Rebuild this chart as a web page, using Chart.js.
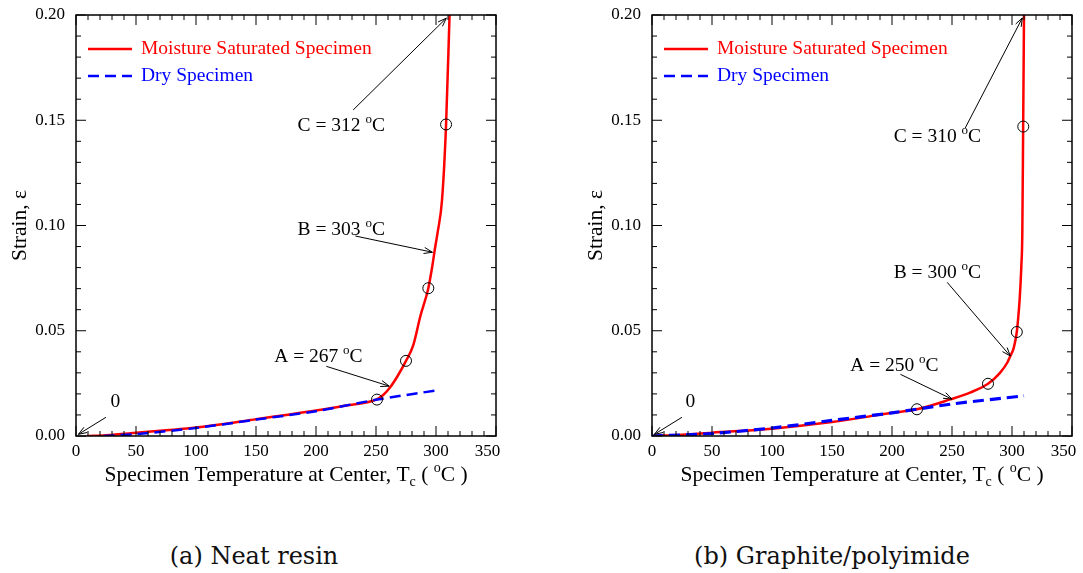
<!DOCTYPE html>
<html>
<head>
<meta charset="utf-8">
<script src="https://cdn.jsdelivr.net/npm/chart.js@4.4.0/dist/chart.umd.min.js"></script>
<style>
html, body { margin: 0; padding: 0; background: #fff; width: 1083px; height: 573px; overflow: hidden; position: relative; }
.panel { position: absolute; top: 0; height: 490px; }
#left { left: 0; width: 540px; }
#right { left: 576px; width: 530px; }
.caption { position: absolute; top: 542px; font-family: "DejaVu Serif", serif; font-size: 24px; color: #111; white-space: nowrap; transform: translateX(-50%); }
</style>
</head>
<body>
<div class="panel" id="left"><canvas id="resinChart"></canvas></div>
<div class="panel" id="right"><canvas id="gpChart"></canvas></div>
<div class="caption" style="left:254px">(a) Neat resin</div>
<div class="caption" style="left:832px">(b) Graphite/polyimide</div>

<script>
// axis ticks
const tempTicks = [0, 50, 100, 150, 200, 250, 300, 350];
const strainTicks = [0, 0.05, 0.10, 0.15, 0.20];

// (a) neat resin
const resinWetT = [9, 25, 50, 75, 100, 125, 150, 175, 200, 225, 250, 256, 262, 268, 275, 281, 287, 293.6, 297, 299, 301.3, 305, 308.4, 311.3];
const resinWetS = [0, 0.0004, 0.0015, 0.0027, 0.004, 0.0058, 0.008, 0.01, 0.0121, 0.0145, 0.0173, 0.0195, 0.0233, 0.0285, 0.0357, 0.043, 0.057, 0.0702, 0.081, 0.0886, 0.0965, 0.112, 0.148, 0.2];
const resinDryT = [23, 50, 100, 150, 200, 250, 300.8];
const resinDryS = [0, 0.0009, 0.0038, 0.0078, 0.0118, 0.0172, 0.0217];
const resinMarkT = [250.8, 275, 293.6, 308.4];
const resinMarkS = [0.0173, 0.0357, 0.0702, 0.148];

// (b) graphite/polyimide
const gpWetT = [0, 25, 50, 100, 150, 200, 220.8, 248.6, 265, 280, 290, 296, 298.6, 301, 303, 304, 305, 306.4, 307.8, 308.6, 309.3, 310];
const gpWetS = [0, 0.0006, 0.0016, 0.0035, 0.0066, 0.011, 0.0127, 0.0174, 0.0206, 0.0248, 0.030, 0.0348, 0.038, 0.041, 0.046, 0.0494, 0.055, 0.065, 0.081, 0.0965, 0.147, 0.2];
const gpDryT = [0, 50, 100, 150, 200, 250, 310];
const gpDryS = [0, 0.0012, 0.0038, 0.0074, 0.011, 0.0152, 0.0191];
const gpMarkT = [220.8, 280, 304, 309.4];
const gpMarkS = [0.0127, 0.0248, 0.0494, 0.147];

// arrow notes: label, text centre (T, strain), arrow tail, arrow head
const resinNotes = [
  { label: 'C = 312', deg: true, tx: 221, ty: 0.1482, x1: 231, y1: 0.1549, x2: 308.6, y2: 0.1985 },
  { label: 'B = 303', deg: true, tx: 221, ty: 0.0988, x1: 232.8, y1: 0.095, x2: 297, y2: 0.0873 },
  { label: 'A = 267', deg: true, tx: 202, ty: 0.0384, x1: 208.6, y1: 0.0331, x2: 261, y2: 0.0237 },
  { label: '0', deg: false, tx: 32.8, ty: 0.017, x1: 25, y1: 0.0089, x2: 2, y2: 0.0008 }
];
const gpNotes = [
  { label: 'C = 310', deg: true, tx: 237.8, ty: 0.143, x1: 261, y1: 0.1463, x2: 308.6, y2: 0.1986 },
  { label: 'B = 300', deg: true, tx: 237.8, ty: 0.0783, x1: 246, y1: 0.073, x2: 298.6, y2: 0.038 },
  { label: 'A = 250', deg: true, tx: 202, ty: 0.0341, x1: 207, y1: 0.0293, x2: 250, y2: 0.0175 },
  { label: '0', deg: false, tx: 32, ty: 0.017, x1: 25, y1: 0.0089, x2: 2, y2: 0.0008 }
];

const serif = '"Liberation Serif", "Times New Roman", serif';
const pts = (xs, ys) => xs.map((x, i) => ({ x: x, y: ys[i] }));

// draw a run of text pieces [text, size, dy] centred on cx
function richText(ctx, parts, cx, baseY, color) {
  let w = 0;
  parts.forEach(p => { ctx.font = p[1] + 'px ' + serif; w += ctx.measureText(p[0]).width; });
  let x = cx - w / 2;
  ctx.fillStyle = color || '#000';
  ctx.textAlign = 'left';
  ctx.textBaseline = 'alphabetic';
  parts.forEach(p => {
    ctx.font = p[1] + 'px ' + serif;
    ctx.fillText(p[0], x, baseY + p[2]);
    x += ctx.measureText(p[0]).width;
  });
}

function arrow(ctx, x1, y1, x2, y2) {
  const a = Math.atan2(y2 - y1, x2 - x1);
  ctx.beginPath();
  ctx.moveTo(x1, y1);
  ctx.lineTo(x2, y2);
  ctx.moveTo(x2 - 9 * Math.cos(a - 0.35), y2 - 9 * Math.sin(a - 0.35));
  ctx.lineTo(x2, y2);
  ctx.lineTo(x2 - 9 * Math.cos(a + 0.35), y2 - 9 * Math.sin(a + 0.35));
  ctx.stroke();
}

const decorPlugin = {
  id: 'decor',
  afterDraw(chart) {
    const ctx = chart.ctx;
    const a = chart.chartArea;
    const xs = chart.scales.x, ys = chart.scales.y;
    ctx.save();

    // frame
    ctx.strokeStyle = '#000';
    ctx.lineWidth = 1.5;
    ctx.strokeRect(a.left, a.top, a.right - a.left, a.bottom - a.top);

    // inward ticks on all four sides, 5 minor steps per labelled step
    ctx.lineWidth = 1;
    ctx.beginPath();
    for (let i = 0; i <= 35; i++) {
      const px = xs.getPixelForValue(i * 10);
      const len = i % 5 === 0 ? 10 : 5;
      ctx.moveTo(px, a.bottom); ctx.lineTo(px, a.bottom - len);
      ctx.moveTo(px, a.top); ctx.lineTo(px, a.top + len);
    }
    for (let i = 0; i <= 20; i++) {
      const py = ys.getPixelForValue(i * 0.01);
      const len = i % 5 === 0 ? 10 : 5;
      ctx.moveTo(a.left, py); ctx.lineTo(a.left + len, py);
      ctx.moveTo(a.right, py); ctx.lineTo(a.right - len, py);
    }
    ctx.stroke();

    // legend
    const opts = chart.options.plugins.decor;
    ctx.lineWidth = 2.5;
    ctx.strokeStyle = '#ff0000';
    ctx.beginPath();
    ctx.moveTo(a.left + 12, a.top + 34); ctx.lineTo(a.left + 56, a.top + 34);
    ctx.stroke();
    ctx.strokeStyle = '#0000ff';
    ctx.setLineDash([11, 6]);
    ctx.beginPath();
    ctx.moveTo(a.left + 12, a.top + 61); ctx.lineTo(a.left + 56, a.top + 61);
    ctx.stroke();
    ctx.setLineDash([]);
    ctx.font = '19.5px ' + serif;
    ctx.textAlign = 'left';
    ctx.textBaseline = 'middle';
    ctx.fillStyle = '#ff0000';
    ctx.fillText('Moisture Saturated Specimen', a.left + 65, a.top + 34);
    ctx.fillStyle = '#0000ff';
    ctx.fillText('Dry Specimen', a.left + 65, a.top + 61);

    // arrow notes
    ctx.strokeStyle = '#000';
    ctx.lineWidth = 1;
    opts.notes.forEach(n => {
      arrow(ctx, xs.getPixelForValue(n.x1), ys.getPixelForValue(n.y1), xs.getPixelForValue(n.x2), ys.getPixelForValue(n.y2));
      const parts = n.deg ? [[n.label + ' ', 19.5, 0], ['o', 13, -8], ['C', 19.5, 0]] : [[n.label, 19.5, 0]];
      richText(ctx, parts, xs.getPixelForValue(n.tx), ys.getPixelForValue(n.ty) + 7);
    });

    // axis titles
    richText(ctx, [['Specimen Temperature at Center, T', 21.5, 0], ['c', 14, 5], [' ( ', 21.5, 0], ['o', 14, -9], ['C )', 21.5, 0]],
      (a.left + a.right) / 2, a.bottom + 45);
    ctx.save();
    ctx.translate(a.left - 56, (a.top + a.bottom) / 2);
    ctx.rotate(-Math.PI / 2);
    ctx.font = '21.5px ' + serif;
    ctx.fillStyle = '#000';
    ctx.textAlign = 'center';
    ctx.textBaseline = 'middle';
    ctx.fillText('Strain, \u03b5', 0, 0);
    ctx.restore();

    ctx.restore();
  }
};

function makeChart(id, wetT, wetS, dryT, dryS, markT, markS, notes, padRight, dryWidth) {
  return new Chart(document.getElementById(id), {
    type: 'line',
    data: {
      datasets: [
        { label: 'marks', data: pts(markT, markS), showLine: false, pointRadius: 5.5, pointBorderWidth: 1,
          pointBorderColor: '#000', pointBackgroundColor: 'rgba(0,0,0,0)' },
        { label: 'Dry Specimen', data: pts(dryT, dryS), borderColor: '#0000ff', borderWidth: dryWidth,
          borderDash: [11, 6], pointRadius: 0, tension: 0.3 },
        { label: 'Moisture Saturated Specimen', data: pts(wetT, wetS), borderColor: '#ff0000', borderWidth: 2.5,
          pointRadius: 0, cubicInterpolationMode: 'monotone' }
      ]
    },
    options: {
      responsive: true,
      maintainAspectRatio: false,
      animation: false,
      layout: { padding: { top: 15, right: padRight, left: 0, bottom: 0 } },
      plugins: { legend: { display: false }, tooltip: { enabled: false }, decor: { notes: notes } },
      scales: {
        x: {
          type: 'linear', min: 0, max: 350,
          afterBuildTicks: s => { s.ticks = tempTicks.map(v => ({ value: v })); },
          afterFit: s => { s.height = 54; s.paddingLeft = 0; s.paddingRight = 0; },
          grid: { display: false, drawTicks: false, tickLength: 0 }, border: { display: false },
          // last label sits left of its tick, as in the original plot
          ticks: { color: '#000', font: { family: serif, size: 17 }, padding: 5, maxRotation: 0,
                   callback: (v, i, arr) => i === arr.length - 1 ? v + '    ' : String(v) }
        },
        y: {
          type: 'linear', min: 0, max: 0.2,
          afterBuildTicks: s => { s.ticks = strainTicks.map(v => ({ value: v })); },
          afterFit: s => { s.width = 76; s.paddingTop = 0; s.paddingBottom = 0; },
          grid: { display: false, drawTicks: false, tickLength: 0 }, border: { display: false },
          ticks: { color: '#000', font: { family: serif, size: 17 }, padding: 11, callback: v => v.toFixed(2) }
        }
      }
    },
    plugins: [decorPlugin]
  });
}

makeChart('resinChart', resinWetT, resinWetS, resinDryT, resinDryS, resinMarkT, resinMarkS, resinNotes, 44, 2.5);
makeChart('gpChart', gpWetT, gpWetS, gpDryT, gpDryS, gpMarkT, gpMarkS, gpNotes, 34, 3.2);
</script>
</body>
</html>
